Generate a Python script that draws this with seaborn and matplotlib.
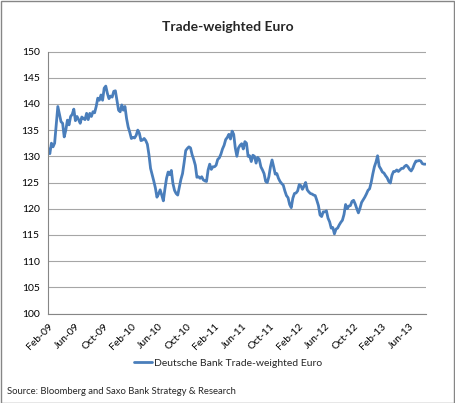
import matplotlib
matplotlib.use("Agg")
import matplotlib.pyplot as plt
import matplotlib.dates as mdates
from matplotlib.patches import Rectangle
import numpy as np
import pandas as pd
import seaborn as sns

# ---- data (weekly readings) ----
start_date = "2009-02-02"
values = [
    131.5, 130.5, 132.5, 131.8, 132.5, 136.0, 139.5, 138.0, 136.6, 136.3,
    133.7, 135.0, 136.9, 136.0, 137.6, 138.0, 139.0, 136.8, 137.6, 137.0,
    136.3, 137.5, 137.2, 137.0, 138.2, 137.0, 138.2, 137.6, 138.5, 138.3,
    139.5, 141.1, 140.7, 141.7, 140.7, 143.0, 143.4, 142.0, 141.0, 141.5,
    141.3, 142.4, 142.5, 140.6, 138.8, 138.5, 139.8, 138.8, 139.5, 137.2,
    135.6, 134.6, 133.4, 133.6, 133.5, 134.0, 135.0, 134.4, 133.0, 133.1,
    133.4, 133.0, 132.3, 130.3, 127.7, 126.5, 125.3, 124.0, 122.2, 122.8,
    123.6, 122.6, 121.5, 123.8, 125.8, 127.0, 126.5, 127.3, 124.8, 123.5,
    122.9, 122.6, 124.1, 125.6, 126.7, 128.8, 131.1, 131.5, 131.8, 131.6,
    130.3, 129.4, 128.3, 126.0, 126.1, 125.8, 126.1, 125.5, 125.3, 125.2,
    127.4, 128.5, 127.5, 128.0, 128.0, 128.3, 129.4, 129.7, 130.4, 131.4,
    132.1, 133.2, 133.6, 134.2, 133.3, 134.8, 134.2, 131.6, 130.0, 131.6,
    132.1, 132.4, 131.4, 132.8, 132.5, 130.0, 130.1, 129.0, 130.2, 130.0,
    128.7, 129.8, 129.4, 128.0, 127.4, 126.7, 125.2, 125.0, 126.1, 128.0,
    129.3, 128.0, 126.6, 126.7, 125.8, 125.2, 124.8, 124.5, 123.4, 122.5,
    122.1, 120.8, 120.2, 122.0, 122.9, 123.0, 123.4, 124.6, 124.4, 123.7,
    124.3, 125.0, 123.6, 123.2, 122.9, 122.8, 122.6, 122.5, 121.6, 120.6,
    118.8, 118.5, 119.4, 119.4, 119.6, 118.2, 117.5, 116.3, 116.4, 115.2,
    116.1, 116.3, 116.9, 117.4, 117.8, 118.9, 120.8, 120.0, 120.5, 120.6,
    121.4, 121.6, 120.9, 120.0, 119.2, 120.1, 121.2, 121.7, 122.2, 122.8,
    123.5, 123.8, 125.0, 126.6, 128.0, 128.9, 130.1, 128.1, 127.6, 127.0,
    126.8, 126.3, 125.9, 125.2, 124.9, 126.4, 127.1, 127.1, 127.4, 127.1,
    127.4, 127.7, 127.7, 128.1, 128.3, 128.0, 127.5, 127.2, 127.7, 128.5,
    129.1, 129.1, 129.2, 129.1, 128.6, 128.5, 128.5,
]
dates = pd.date_range(start_date, periods=len(values), freq="7D")
series_name = "Deutsche Bank Trade-weighted Euro"
title = "Trade-weighted Euro"
source = "Source: Bloomberg and Saxo Bank Strategy & Research"
tick_dates = pd.date_range("2009-02-01", "2013-06-01", freq="4MS")
y_ticks = list(range(100, 151, 5))

df = pd.DataFrame({"date": dates, "value": values})

sns.set_style("white")
plt.rcParams["font.family"] = ["Lato", "DejaVu Sans"]

W, H = 455, 403
fig = plt.figure(figsize=(W / 100, H / 100), dpi=100)
ax = fig.add_axes([48 / W, 1 - 313.5 / H, (426 - 48) / W, (313.5 - 51.5) / H])

line_color = "#4A7EBB"
sns.lineplot(data=df, x="date", y="value", ax=ax, color=line_color,
             linewidth=2.0, label=series_name, legend=False)

ax.set_ylim(100, 150)
ax.set_yticks(y_ticks)
ax.set_xlim(pd.Timestamp("2009-02-01"), dates[-1] + pd.Timedelta(days=2))
ax.set_xticks(tick_dates)
ax.xaxis.set_major_formatter(mdates.DateFormatter("%b-%y"))
for lbl in ax.get_xticklabels():
    lbl.set_rotation(45)
    lbl.set_ha("right")
    lbl.set_rotation_mode("anchor")

ax.grid(axis="y", color="#a6a6a6", linewidth=0.8)
ax.grid(axis="x", visible=False)
ax.set_axisbelow(True)
for s in ["top", "right"]:
    ax.spines[s].set_visible(False)
for s in ["left", "bottom"]:
    ax.spines[s].set_color("#868686")
    ax.spines[s].set_linewidth(0.8)
ax.tick_params(axis="both", direction="out", length=4, width=0.8,
               color="#868686", labelsize=7.5, labelcolor="#000000", pad=2)
ax.set_xlabel("")
ax.set_ylabel("")

fig.text(0.5, 1 - 27 / H, title, ha="center", va="center",
         fontsize=10, fontweight="bold")

handles, labels = ax.get_legend_handles_labels()
fig.legend(handles, labels, loc="center", bbox_to_anchor=(228 / W, 1 - 363 / H),
           frameon=False, fontsize=7.5, handlelength=1.8, handletextpad=0.2)

fig.text(7 / W, 1 - 391 / H, source, ha="left", va="center", fontsize=6.8)

fig.patches.append(Rectangle((0.5 / W, 0.5 / H), 1 - 1.5 / W, 1 - 1.5 / H,
                             transform=fig.transFigure, fill=False,
                             edgecolor="#868686", linewidth=1.0))

fig.savefig("out.png", dpi=100)
